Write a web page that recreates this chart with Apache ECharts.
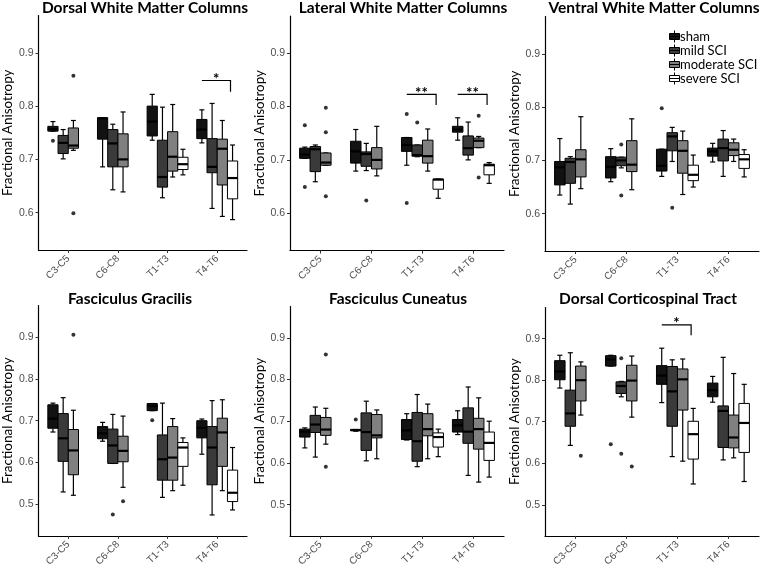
<!DOCTYPE html>
<html><head><meta charset="utf-8">
<script src="https://cdn.jsdelivr.net/npm/echarts@6/dist/echarts.min.js"></script>
<style>html,body{margin:0;padding:0;background:#fff}#c{width:760px;height:569px}</style>
</head><body><div id="c"></div>
<script>
// ---------- data ----------
const categories = ['C3-C5', 'C6-C8', 'T1-T3', 'T4-T6'];
const groups = ['sham', 'mild SCI', 'moderate SCI', 'severe SCI'];
const panelTitles = ['Dorsal White Matter Columns', 'Lateral White Matter Columns', 'Ventral White Matter Columns',
  'Fasciculus Gracilis', 'Fasciculus Cuneatus', 'Dorsal Corticospinal Tract'];
const yTicksTop = [0.6, 0.7, 0.8, 0.9];
const yTicksBottom = [0.5, 0.6, 0.7, 0.8, 0.9];
const yLabel = 'Fractional Anisotropy';

// [whiskerLow, Q1, median, Q3, whiskerHigh] per category; groups: sham, mild, moderate, severe
const dorsalWM = [
  [[0.753,0.753,0.757,0.762,0.771],[0.686,0.738,0.777,0.778,0.778],[0.736,0.744,0.771,0.800,0.822],[0.731,0.739,0.756,0.775,0.793]],
  [[0.701,0.711,0.731,0.745,0.756],[0.643,0.686,0.730,0.756,0.766],[0.628,0.648,0.667,0.736,0.798],[0.608,0.675,0.686,0.739,0.805]],
  [[0.717,0.721,0.726,0.759,0.773],[0.639,0.686,0.700,0.748,0.789],[0.667,0.678,0.705,0.752,0.803],[0.593,0.652,0.720,0.738,0.773]],
  [null,null,[0.671,0.681,0.691,0.704,0.719],[0.587,0.626,0.665,0.697,0.727]]
];
const lateralWM = [
  [[0.703,0.703,0.710,0.722,0.724],[0.679,0.694,0.716,0.735,0.757],[0.690,0.716,0.728,0.742,0.742],[0.737,0.752,0.757,0.763,0.779]],
  [[0.659,0.678,0.720,0.725,0.728],[0.680,0.688,0.711,0.715,0.731],[0.706,0.707,0.709,0.728,0.728],[0.700,0.709,0.722,0.745,0.771]],
  [[0.690,0.690,0.695,0.713,0.713],[0.670,0.683,0.700,0.723,0.763],[0.679,0.694,0.707,0.737,0.758],[0.723,0.723,0.736,0.741,0.744]],
  [null,null,[0.628,0.645,0.663,0.664,0.664],[0.656,0.672,0.690,0.692,0.695]]
];
const ventralWM = [
  [[0.635,0.654,0.687,0.698,0.741],[0.660,0.667,0.688,0.707,0.722],[0.670,0.680,0.690,0.721,0.721],[0.697,0.708,0.717,0.723,0.732]],
  [[0.618,0.657,0.697,0.704,0.707],[0.686,0.690,0.700,0.706,0.706],[0.698,0.718,0.745,0.752,0.762],[0.670,0.699,0.723,0.740,0.756]],
  [[0.647,0.669,0.702,0.720,0.782],[0.645,0.679,0.692,0.737,0.778],[0.636,0.676,0.718,0.737,0.755],[0.698,0.709,0.720,0.733,0.740]],
  [null,null,[0.650,0.662,0.673,0.691,0.710],[0.669,0.685,0.702,0.711,0.720]]
];
const gracilis = [
  [[0.673,0.682,0.705,0.738,0.742],[0.651,0.657,0.670,0.686,0.696],[0.724,0.724,0.735,0.741,0.741],[0.620,0.659,0.683,0.700,0.704]],
  [[0.530,0.603,0.658,0.717,0.755],[0.598,0.598,0.641,0.680,0.715],[0.517,0.558,0.608,0.666,0.742],[0.475,0.547,0.636,0.686,0.748]],
  [[0.522,0.571,0.629,0.679,0.725],[0.541,0.602,0.628,0.663,0.711],[0.533,0.558,0.612,0.686,0.705],[0.533,0.591,0.672,0.706,0.750]],
  [null,null,[0.546,0.591,0.636,0.648,0.659],[0.487,0.507,0.528,0.582,0.636]]
];
const cuneatus = [
  [[0.636,0.662,0.675,0.681,0.684],[0.676,0.677,0.679,0.680,0.680],[0.655,0.656,0.678,0.704,0.718],[0.668,0.674,0.690,0.704,0.725]],
  [[0.614,0.673,0.692,0.714,0.734],[0.605,0.630,0.674,0.720,0.748],[0.591,0.604,0.652,0.721,0.764],[0.570,0.647,0.675,0.732,0.782]],
  [[0.645,0.666,0.680,0.709,0.731],[0.610,0.660,0.666,0.716,0.727],[0.610,0.665,0.681,0.718,0.741],[0.554,0.633,0.681,0.707,0.756]],
  [null,null,[0.615,0.638,0.662,0.672,0.681],[0.566,0.606,0.648,0.674,0.700]]
];
const corticospinal = [
  [[0.781,0.801,0.821,0.847,0.860],[0.834,0.834,0.850,0.859,0.860],[0.746,0.790,0.811,0.835,0.877],[0.747,0.760,0.776,0.793,0.809]],
  [[0.643,0.689,0.720,0.776,0.866],[0.760,0.768,0.786,0.796,0.797],[0.616,0.689,0.773,0.833,0.849],[0.608,0.638,0.726,0.738,0.855]],
  [[0.716,0.750,0.800,0.834,0.844],[0.711,0.750,0.799,0.836,0.858],[0.605,0.728,0.802,0.827,0.851],[0.613,0.637,0.662,0.716,0.816]],
  [null,null,[0.550,0.610,0.670,0.701,0.732],[0.556,0.626,0.697,0.744,0.790]]
];

// outliers: [groupIndex, categoryIndex, value]
const dorsalWMOut = [[0,0,0.735],[2,0,0.857],[2,0,0.599]];
const lateralWMOut = [[0,0,0.765],[0,0,0.649],[2,0,0.798],[2,0,0.752],[2,0,0.632],[1,1,0.624],[0,2,0.786],[0,2,0.619],[1,2,0.770],[2,3,0.783],[2,3,0.667]];
const ventralWMOut = [[1,1,0.730],[1,1,0.634],[0,2,0.798],[1,2,0.611]];
const gracilisOut = [[2,0,0.905],[1,1,0.476],[2,1,0.508],[0,2,0.701]];
const cuneatusOut = [[2,0,0.860],[2,0,0.591],[0,1,0.704]];
const corticospinalOut = [[2,0,0.618],[0,1,0.646],[1,1,0.853],[1,1,0.623],[2,1,0.592]];

// significance brackets: [categoryIndex, barValue, dropValue, label]
const dorsalWMSig = [[3,0.848,0.827,'*']];
const lateralWMSig = [[2,0.823,0.803,'**'],[3,0.823,0.803,'**']];
const corticospinalSig = [[2,0.933,0.908,'*']];

// ---------- layout / style ----------
const groupColors = ['#121212', '#3a3a3a', '#808080', '#ffffff'];
const BOX_W = 0.206, CAP_W = 0.1;
const panels = [
  {stats: dorsalWM, out: dorsalWMOut, sig: dorsalWMSig, ticks: yTicksTop, min: 0.53, max: 0.97, grid: {left: 33, top: 15.5, width: 214, height: 234.5}, tx: 145, ty: 0},
  {stats: lateralWM, out: lateralWMOut, sig: lateralWMSig, ticks: yTicksTop, min: 0.53, max: 0.97, grid: {left: 290, top: 16, width: 214, height: 234.5}, tx: 403, ty: 0},
  {stats: ventralWM, out: ventralWMOut, sig: [], ticks: yTicksTop, min: 0.53, max: 0.97, grid: {left: 545, top: 16.5, width: 214, height: 234.5}, tx: 654, ty: 0},
  {stats: gracilis, out: gracilisOut, sig: [], ticks: yTicksBottom, min: 0.425, max: 0.975, grid: {left: 33, top: 305.5, width: 214, height: 235.5}, tx: 130, ty: 291},
  {stats: cuneatus, out: cuneatusOut, sig: [], ticks: yTicksBottom, min: 0.425, max: 0.975, grid: {left: 290, top: 306.5, width: 214, height: 235.5}, tx: 398, ty: 291},
  {stats: corticospinal, out: corticospinalOut, sig: corticospinalSig, ticks: yTicksBottom, min: 0.425, max: 0.975, grid: {left: 545, top: 307.5, width: 214, height: 234.5}, tx: 648, ty: 291}
];

const TITLE_FONT = 'Lato, "Open Sans", sans-serif';
const TICK_FONT = '"Liberation Sans", Arial, sans-serif';

function renderBox(params, api) {
  const x = api.value(0);
  const mn = api.value(1), q1 = api.value(2), md = api.value(3), q3 = api.value(4), mx = api.value(5);
  const h = BOX_W / 2, c = CAP_W / 2;
  const tl = api.coord([x - h, q3]), br = api.coord([x + h, q1]);
  const pMx = api.coord([x, mx]), pMn = api.coord([x, mn]), pQ3 = api.coord([x, q3]), pQ1 = api.coord([x, q1]);
  const capL1 = api.coord([x - c, mx]), capR1 = api.coord([x + c, mx]);
  const capL2 = api.coord([x - c, mn]), capR2 = api.coord([x + c, mn]);
  const mL = api.coord([x - h, md]), mR = api.coord([x + h, md]);
  const ls = {stroke: '#000', lineWidth: 1.2};
  return {
    type: 'group',
    children: [
      {type: 'line', shape: {x1: pQ3[0], y1: pQ3[1], x2: pMx[0], y2: pMx[1]}, style: ls},
      {type: 'line', shape: {x1: pQ1[0], y1: pQ1[1], x2: pMn[0], y2: pMn[1]}, style: ls},
      {type: 'line', shape: {x1: capL1[0], y1: capL1[1], x2: capR1[0], y2: capR1[1]}, style: ls},
      {type: 'line', shape: {x1: capL2[0], y1: capL2[1], x2: capR2[0], y2: capR2[1]}, style: ls},
      {type: 'rect', shape: {x: tl[0], y: tl[1], width: br[0] - tl[0], height: br[1] - tl[1]},
        style: {fill: api.visual('color'), stroke: '#000', lineWidth: 1}},
      {type: 'line', shape: {x1: mL[0], y1: mL[1], x2: mR[0], y2: mR[1]}, style: {stroke: '#000', lineWidth: 2.2}}
    ]
  };
}

function makeSigRender(sig) {
  return function (params, api) {
    const s = sig[params.dataIndex];
    const cx = api.value(0);
    const a = api.coord([cx - 1.5 * BOX_W, s[1]]);
    const b = api.coord([cx + 1.3 * BOX_W, s[1]]);
    const d = api.coord([cx + 1.3 * BOX_W, s[2]]);
    return {
      type: 'group',
      children: [
        {type: 'polyline', shape: {points: [a, b, d]}, style: {stroke: '#000', lineWidth: 1.2, fill: null}},
        {type: 'text', style: {text: s[3], x: (a[0] + b[0]) / 2, y: a[1] + 6, align: 'center', verticalAlign: 'bottom',
          font: 'bold 15px ' + TITLE_FONT, fill: '#000'}}
      ]
    };
  };
}

const grid = [], xAxis = [], yAxis = [], series = [], title = [];
panels.forEach((p, i) => {
  grid.push(Object.assign({containLabel: false}, p.grid));
  title.push({text: panelTitles[i], left: p.tx, top: p.ty, textAlign: 'center', padding: 0,
    textStyle: {fontFamily: TITLE_FONT, fontWeight: 'bold', fontSize: 15.5, color: '#000', lineHeight: 16}});
  xAxis.push({
    type: 'value', gridIndex: i, min: 0.4, max: 4.6, splitLine: {show: false},
    axisLine: {lineStyle: {color: '#000', width: 1.2}},
    axisTick: {customValues: [1, 2, 3, 4], length: 3, lineStyle: {color: '#333'}},
    axisLabel: {customValues: [1, 2, 3, 4], rotate: 45, margin: 7, fontSize: 10, fontFamily: TICK_FONT, color: '#4d4d4d',
      formatter: v => categories[Math.round(v) - 1]}
  });
  yAxis.push({
    type: 'value', gridIndex: i, min: p.min, max: p.max, splitLine: {show: false},
    axisLine: {show: true, lineStyle: {color: '#000', width: 1.2}},
    axisTick: {show: true, customValues: p.ticks, length: 3, lineStyle: {color: '#333'}},
    axisLabel: {customValues: p.ticks, margin: 5, fontSize: 10.5, fontFamily: TICK_FONT, color: '#4d4d4d',
      formatter: v => v.toFixed(1)},
    name: yLabel, nameLocation: 'middle', nameGap: 19,
    nameTextStyle: {fontFamily: TITLE_FONT, fontSize: 13.5, color: '#000'}
  });
  p.stats.forEach((gs, g) => {
    const data = [];
    gs.forEach((s, c) => { if (s) data.push([c + 1 + (g - 1.5) * BOX_W].concat(s)); });
    series.push({
      name: groups[g], type: 'custom', xAxisIndex: i, yAxisIndex: i,
      itemStyle: {color: groupColors[g], borderColor: '#000'},
      encode: {x: 0, y: [1, 2, 3, 4, 5]},
      renderItem: renderBox, data: data, silent: true
    });
  });
  series.push({
    type: 'scatter', xAxisIndex: i, yAxisIndex: i, symbolSize: 4, itemStyle: {color: '#000'}, silent: true,
    data: p.out.map(o => [o[1] + 1 + (o[0] - 1.5) * BOX_W, o[2]])
  });
  if (p.sig.length) {
    series.push({
      type: 'custom', xAxisIndex: i, yAxisIndex: i, silent: true,
      encode: {x: 0, y: [1, 2]},
      renderItem: makeSigRender(p.sig),
      data: p.sig.map(s => [s[0] + 1, s[1], s[2]])
    });
  }
});

const chart = echarts.init(document.getElementById('c'), null, {renderer: 'canvas'});
chart.setOption({
  animation: false,
  backgroundColor: '#fff',
  title: title,
  grid: grid, xAxis: xAxis, yAxis: yAxis, series: series,
  legend: {
    data: groups, orient: 'vertical', left: 664, top: 25, itemWidth: 11, itemHeight: 12, itemGap: 1,
    icon: 'path://M6,0L6,3M1,3L11,3L11,9L1,9ZM1,6L11,6M6,9L6,12',
    itemStyle: {borderColor: '#000', borderWidth: 1},
    textStyle: {fontFamily: TITLE_FONT, fontSize: 13, color: '#000', padding: [0, 0, 0, -5], lineHeight: 13},
    selectedMode: false
  }
});
</script></body></html>
